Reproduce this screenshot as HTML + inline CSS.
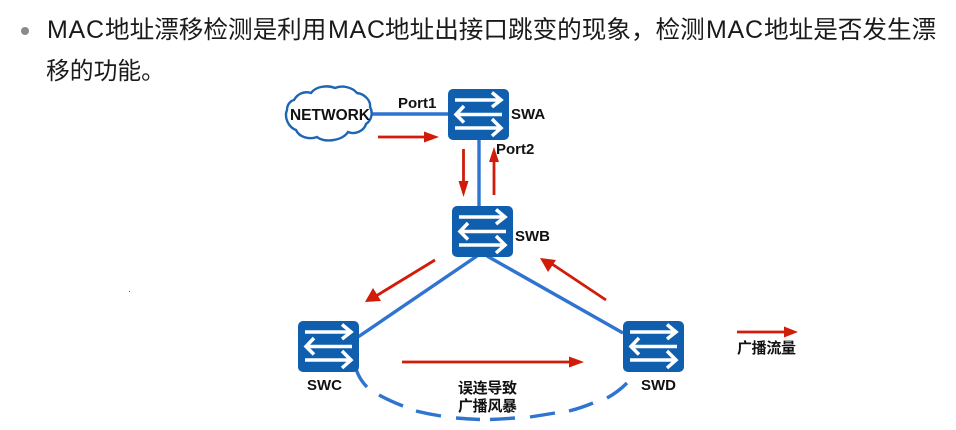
<!DOCTYPE html>
<html><head><meta charset="utf-8">
<style>
html,body{margin:0;padding:0;background:#fff;width:956px;height:430px;overflow:hidden}
svg{display:block}
text{font-family:"Liberation Sans","Noto Sans CJK SC",sans-serif}
.l{font-weight:700;font-size:15px;fill:#111}
</style></head><body>
<svg width="956" height="430" viewBox="0 0 956 430" xmlns="http://www.w3.org/2000/svg">
<defs>
<g id="sw">
<rect width="61" height="51" rx="5" fill="#0f5fae"/>
<g fill="none" stroke="#fff" stroke-width="3.500" stroke-linejoin="miter">
<path d="M7 11H52M44 3.500L53 11L44 18"/>
<path d="M54 25.500H9M16 17L8 25.500L16 33.500"/>
<path d="M7 39H52M44 30L53 39L44 47"/>
</g>
</g>
</defs>

<circle cx="25" cy="31" r="4" fill="#8a8a8a"/>
<g font-size="24.600" fill="#1a1a1a">
<text x="47" y="38" font-size="25" textLength="57">MAC</text>
<text x="105" y="38">地址漂移检测是利用</text>
<text x="328" y="38" font-size="25" textLength="57">MAC</text>
<text x="385" y="38">地址出接口跳变的现象，检测</text>
<text x="706" y="38" font-size="25" textLength="57">MAC</text>
<text x="764" y="38">地址是否发生漂</text>
<text x="46" y="79" font-size="23.800">移的功能。</text>
</g>

<!-- connectors -->
<g stroke="#2f74d0" stroke-width="3.400" fill="none">
<path d="M371 114H449"/>
<path d="M479 139V207"/>
<path d="M477 256L358 337"/>
<path d="M487 256L623 333"/>
<path d="M355 365C357 374 361 381 367 387"/>
<path d="M379 395Q390 401 403 406M416 411Q428 414 441 416M456 418Q468 419 480 419.500M490 419.500Q503 419 515 418M530 417Q543 415 555 413M569 411Q581 408 593 403M607 398Q618 392 627 383"/>
</g>

<!-- cloud -->
<path d="M294 100C298 93 305 91 311 93C316 86 328 85 335 88C342 85 352 87 357 93C365 94 371 101 370 107C373 112 372 120 366 124C364 131 355 135 348 132C342 141 324 143 317 137C309 140 299 137 296 130C288 127 284 117 287 110C287 105 290 101 294 100Z" fill="#fff" stroke="#1c66b4" stroke-width="2.400"/>
<text x="290" y="120" font-size="15.500" font-weight="700" fill="#111" textLength="80" lengthAdjust="spacingAndGlyphs">NETWORK</text>

<!-- switches -->
<use href="#sw" x="448" y="89"/>
<use href="#sw" x="452" y="206"/>
<use href="#sw" x="298" y="321"/>
<use href="#sw" x="623" y="321"/>

<!-- red arrows -->
<g stroke="#d01c08" stroke-width="2.800" fill="#d01c08">
<path d="M378 137H426" fill="none"/><path d="M424 131.500L439 137L424 142.500Z" stroke="none"/>
<path d="M463.500 149V184" fill="none"/><path d="M458.500 181L463.500 197L468.500 181Z" stroke="none"/>
<path d="M494 195V160" fill="none"/><path d="M489 162L494 147L499 162Z" stroke="none"/>
<path d="M435 260L376 296" fill="none"/><path d="M373 288L365 302L381 301Z" stroke="none"/>
<path d="M606 300L552 264" fill="none"/><path d="M548 272L540 258L556 260Z" stroke="none"/>
<path d="M402 362H570" fill="none"/><path d="M569 356.500L584 362L569 367.500Z" stroke="none"/>
<path d="M737 332H785" fill="none"/><path d="M784 326.500L798 332L784 337.500Z" stroke="none"/>
</g>

<!-- labels -->
<text class="l" x="398" y="108">Port1</text>
<text class="l" x="511" y="119">SWA</text>
<text class="l" x="496" y="154">Port2</text>
<text class="l" x="515" y="241">SWB</text>
<text class="l" x="307" y="390">SWC</text>
<text class="l" x="641" y="390">SWD</text>
<text class="l" x="458" y="393" font-size="15" textLength="59">误连导致</text>
<text class="l" x="458" y="411" font-size="15" textLength="59">广播风暴</text>
<text class="l" x="737" y="353" font-size="15" textLength="59">广播流量</text>
<rect x="129" y="291" width="1" height="1" fill="#c33"/>
</svg>
</body></html>
